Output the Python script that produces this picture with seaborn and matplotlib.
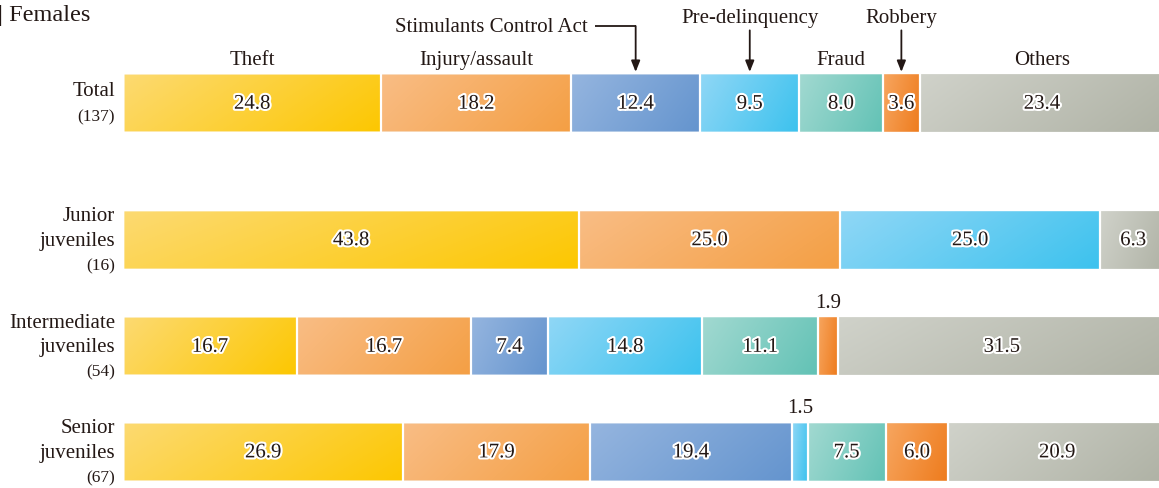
import numpy as np
import pandas as pd
import matplotlib
matplotlib.use("Agg")
import matplotlib.pyplot as plt
import matplotlib.patheffects as pe
from matplotlib.colors import to_rgb
from matplotlib.transforms import blended_transform_factory
import seaborn as sns

# ---------------- data ----------------
groups = ["Total", "Junior juveniles", "Intermediate juveniles", "Senior juveniles"]
group_lines = [["Total"], ["Junior", "juveniles"], ["Intermediate", "juveniles"], ["Senior", "juveniles"]]
group_counts = ["(137)", "(16)", "(54)", "(67)"]
group_pos = [0.0, 1.28, 2.28, 3.27]

categories = ["Theft", "Injury/assault", "Stimulants Control Act", "Pre-delinquency",
              "Fraud", "Robbery", "Others"]
theft = [24.8, 43.8, 16.7, 26.9]
injury = [18.2, 25.0, 16.7, 17.9]
stimulants = [12.4, 0.0, 7.4, 19.4]
predelinquency = [9.5, 25.0, 14.8, 1.5]
fraud = [8.0, 0.0, 11.1, 7.5]
robbery = [3.6, 0.0, 1.9, 6.0]
others = [23.4, 6.3, 31.5, 20.9]
series = [theft, injury, stimulants, predelinquency, fraud, robbery, others]

light_cols = ["#fdda72", "#f9bd85", "#95b5df", "#90d7f6", "#a2d9d1", "#f7a660", "#d0d2ca"]
dark_cols = ["#fcc700", "#f49f44", "#6494ce", "#3cc2ee", "#62c2b5", "#ee7b1c", "#afb2a5"]

# header labels placed directly above the Total segment; arrow ones use arrows
header_plain = ["Theft", "Injury/assault", "Fraud", "Others"]

# ---------------- figure ----------------
sns.set_theme(style="white")
plt.rcParams["font.family"] = ["Liberation Serif", "DejaVu Serif"]
TXT = "#231815"
FS = 15

fig = plt.figure(figsize=(11.59, 4.89), dpi=100)
ax = fig.add_axes([123 / 1159, 1 - 483 / 489, 1042 / 1159, (483 - 74) / 489])

vals = np.array(series)              # (n_cat, n_group)
cums = np.cumsum(vals, axis=0)
starts = cums - vals
bar_h = 0.566

seg_patches = {}
for ci in range(len(categories) - 1, -1, -1):
    df = pd.DataFrame({"value": cums[ci], "pos": group_pos})
    n0 = len(ax.patches)
    sns.barplot(data=df, x="value", y="pos", orient="h", native_scale=True,
                color=dark_cols[ci], width=bar_h, ax=ax, errorbar=None,
                saturation=1)
    seg_patches[ci] = ax.patches[n0:]

# gradient fills + white separators
for ci, plist in seg_patches.items():
    c0 = np.array(to_rgb(light_cols[ci]))
    c1 = np.array(to_rgb(dark_cols[ci]))
    ny, nx = 40, 80
    xx, yy = np.meshgrid(np.linspace(0, 1, nx), np.linspace(0, 1, ny))
    t = np.clip(0.75 * xx + 0.25 * yy, 0, 1)[..., None]
    img = c0 * (1 - t) + c1 * t
    for p in plist:
        y0 = p.get_y()
        h = p.get_height()
        yc = y0 + h / 2
        gi = int(np.argmin(np.abs(np.array(group_pos) - yc)))
        v = vals[ci, gi]
        if v <= 0:
            p.set_visible(False)
            continue
        xs, xe = starts[ci, gi], cums[ci, gi]
        ax.imshow(img, extent=(xs, xe, y0 + h, y0), aspect="auto",
                  interpolation="bilinear", zorder=2, origin="upper")
        p.set_facecolor("none")
        p.set_edgecolor("white")
        p.set_linewidth(1.6)
        p.set_zorder(3)

top_edge = -bar_h / 2
ax.set_xlim(0, 100)
ax.set_ylim(group_pos[-1] + bar_h / 2, top_edge)
ax.set_xlabel("")
ax.set_ylabel("")
ax.set_xticks([])
ax.set_yticks([])
for s in ax.spines.values():
    s.set_visible(False)
ax.patch.set_alpha(0)

stroke = [pe.withStroke(linewidth=3.0, foreground="white")]

# value labels
for ci in range(len(categories)):
    for gi in range(len(groups)):
        v = vals[ci, gi]
        if v <= 0:
            continue
        xc = starts[ci, gi] + v / 2
        if v < 3:
            ax.text(xc, group_pos[gi] - bar_h / 2 - 0.04, f"{v:.1f}", ha="center",
                    va="bottom", fontsize=FS, color=TXT, zorder=5)
        else:
            ax.text(xc, group_pos[gi] + 0.01, f"{v:.1f}", ha="center", va="center",
                    fontsize=FS, color=TXT, zorder=5, path_effects=stroke)

# group labels on the left
tr = blended_transform_factory(fig.transFigure, ax.transData)
xlab = 115 / 1159
for gi in range(len(groups)):
    lines = group_lines[gi]
    yc = group_pos[gi]
    if len(lines) == 1:
        ax.text(xlab, yc - 0.12, lines[0], transform=tr, ha="right", va="center",
                fontsize=FS, color=TXT)
        ax.text(xlab, yc + 0.12, group_counts[gi], transform=tr, ha="right",
                va="center", fontsize=12.5, color=TXT)
    else:
        ax.text(xlab, yc - 0.225, lines[0], transform=tr, ha="right", va="center",
                fontsize=FS, color=TXT)
        ax.text(xlab, yc + 0.005, lines[1], transform=tr, ha="right", va="center",
                fontsize=FS, color=TXT)
        ax.text(xlab, yc + 0.24, group_counts[gi], transform=tr, ha="right",
                va="center", fontsize=12.5, color=TXT)

# category headers above the Total bar
for ci, cat in enumerate(categories):
    xc = starts[ci, 0] + vals[ci, 0] / 2
    if cat in header_plain:
        ax.text(xc, top_edge - 0.13, cat, ha="center", va="center", fontsize=FS,
                color=TXT, clip_on=False)

arrow_kw = dict(arrowstyle="-|>,head_length=0.55,head_width=0.22", color=TXT, lw=1.3,
                shrinkA=0, shrinkB=0)
# Stimulants Control Act: elbow arrow
ci = categories.index("Stimulants Control Act")
xc = starts[ci, 0] + vals[ci, 0] / 2
ycorner = top_edge - 0.44
ax.text(xc - 4.6, ycorner, "Stimulants Control Act", ha="right", va="center",
        fontsize=FS, color=TXT, clip_on=False)
ax.plot([xc - 3.9, xc], [ycorner, ycorner], color=TXT, lw=1.3, clip_on=False,
        solid_capstyle="butt")
ax.annotate("", xy=(xc, top_edge - 0.01), xytext=(xc, ycorner), arrowprops=arrow_kw,
            annotation_clip=False)

for cat in ["Pre-delinquency", "Robbery"]:
    ci = categories.index(cat)
    xc = starts[ci, 0] + vals[ci, 0] / 2
    ax.text(xc, top_edge - 0.525, cat, ha="center", va="center", fontsize=FS,
            color=TXT, clip_on=False)
    ax.annotate("", xy=(xc, top_edge - 0.01), xytext=(xc, top_edge - 0.40),
                arrowprops=arrow_kw, annotation_clip=False)

fig.text(-0.002, 1 - 15 / 489, "| Females", ha="left", va="center", fontsize=17.5,
         color=TXT)

fig.savefig("out.png", dpi=100)
